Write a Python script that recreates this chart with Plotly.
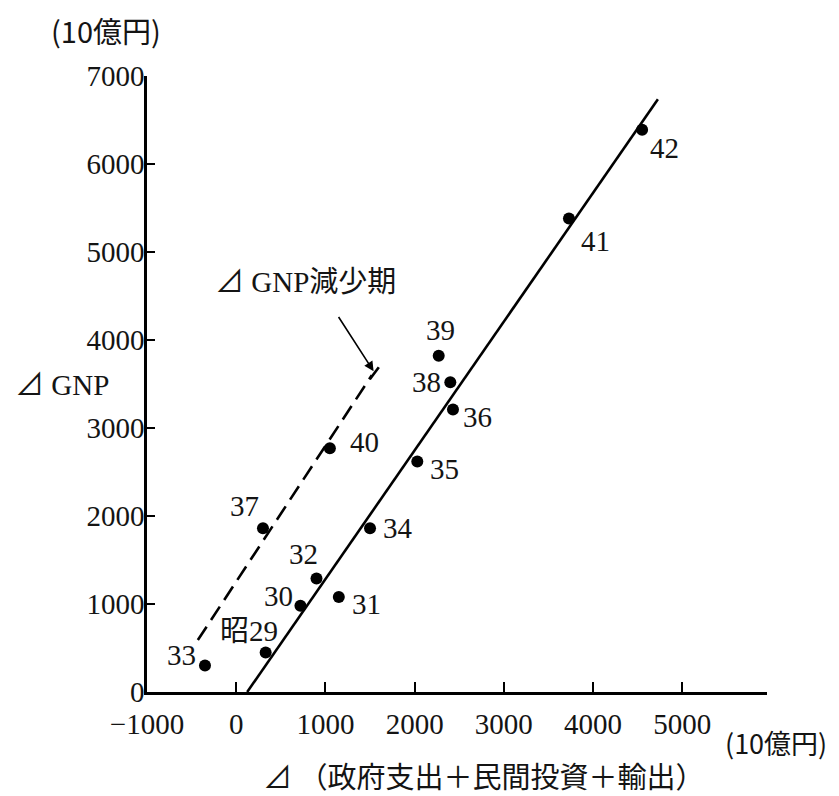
import plotly.graph_objects as go

# Data (ΔX = Δ(政府支出＋民間投資＋輸出), ΔGNP), 10億円
years = ["昭29", "30", "31", "32", "33", "34", "35", "36", "37", "38", "39", "40", "41", "42"]
dx = [330, 720, 1150, 900, -350, 1500, 2030, 2430, 300, 2400, 2270, 1050, 3730, 4550]
dgnp = [450, 980, 1080, 1290, 300, 1860, 2620, 3210, 1860, 3520, 3820, 2770, 5380, 6390]

# label offsets (pixels) for each point label
lab_dx = [-17, -22, 28, -13, -23, 28, 27, 25, -18, -24, 2, 35, 27, 22]
lab_dy = [21, 10, -7, 24, 11, 0, -8, -7, 22, 0, 26, 6, -22, -18]

# fitted lines
solid_x = [123, 4727]
solid_y = [0, 6735]
dash_x = [-430, 1520]
dash_y = [590, 3600]

xticks = [-1000, 0, 1000, 2000, 3000, 4000, 5000]
yticks = [0, 1000, 2000, 3000, 4000, 5000, 6000, 7000]

FONT = "Liberation Serif, Noto Sans CJK JP, serif"
CJK = "Noto Sans CJK JP, Liberation Serif"
TXT = "#141414"

fig = go.Figure()
fig.add_trace(go.Scatter(x=solid_x, y=solid_y, mode="lines",
                         line=dict(color="black", width=2.6), showlegend=False))
fig.add_trace(go.Scatter(x=dash_x, y=dash_y, mode="lines",
                         line=dict(color="black", width=2.6, dash="16px,8px"), showlegend=False))
fig.add_trace(go.Scatter(x=dx, y=dgnp, mode="markers",
                         marker=dict(color="black", size=12), showlegend=False))

annotations = []
for t, x, y, ox, oy in zip(years, dx, dgnp, lab_dx, lab_dy):
    annotations.append(dict(x=x, y=y, xref="x", yref="y", text=t, showarrow=False,
                            xshift=ox, yshift=oy, xanchor="center", yanchor="middle",
                            font=dict(family=FONT, size=29, color=TXT)))

def plab(px, py, text, family, size):
    # place text centred at a pixel position of the 839x796 page
    return dict(x=(px - 147) / 620, y=(692 - py) / 616, xref="paper", yref="paper",
                text=text, showarrow=False, xanchor="center", yanchor="middle",
                font=dict(family=family, size=size, color=TXT))

annotations += [
    plab(106, 30, "(10億円)", CJK, 29),
    plab(62, 385, "⊿ GNP", FONT, 29),
    plab(776, 742, "(10億円)", CJK, 27),
    plab(484, 775, "⊿ （政府支出＋民間投資＋輸出）", CJK, 29),
    plab(305, 282, "⊿ GNP減少期", FONT, 29),
    dict(x=dash_x[1] + 20, y=dash_y[1] + 45, xref="x", yref="y", text=" ", showarrow=True,
         ax=-40, ay=-62, arrowhead=2, arrowsize=1.2, arrowwidth=1.6, arrowcolor="black"),
]

shapes = [
    dict(type="line", xref="x", yref="y", xsizemode="pixel", ysizemode="pixel",
         xanchor=dash_x[1], yanchor=dash_y[1], x0=-2, y0=-4, x1=7, y1=8,
         line=dict(color="black", width=2.6)),
]

fig.update_layout(
    width=839, height=796, autosize=False,
    margin=dict(l=147, r=72, t=76, b=104),
    paper_bgcolor="white", plot_bgcolor="white",
    font=dict(family=FONT, size=29, color=TXT),
    annotations=annotations, shapes=shapes,
    xaxis=dict(range=[-1000, 5950], tickvals=xticks + [5950],
               ticktext=["−1000", "0", "1000", "2000", "3000", "4000", "5000", ""],
               ticks="inside", ticklen=10, tickwidth=2, tickcolor="black",
               showline=True, linewidth=2.5, linecolor="black",
               showgrid=False, zeroline=False, ticklabelstandoff=4,
               tickfont=dict(family=FONT, size=29, color=TXT)),
    yaxis=dict(range=[0, 7000], tickvals=yticks,
               ticks="inside", ticklen=8, tickwidth=2, tickcolor="black",
               showline=True, linewidth=2.5, linecolor="black",
               showgrid=False, zeroline=False, ticklabelstandoff=-6,
               tickfont=dict(family=FONT, size=29, color=TXT)),
)

fig.write_html("out.html")
